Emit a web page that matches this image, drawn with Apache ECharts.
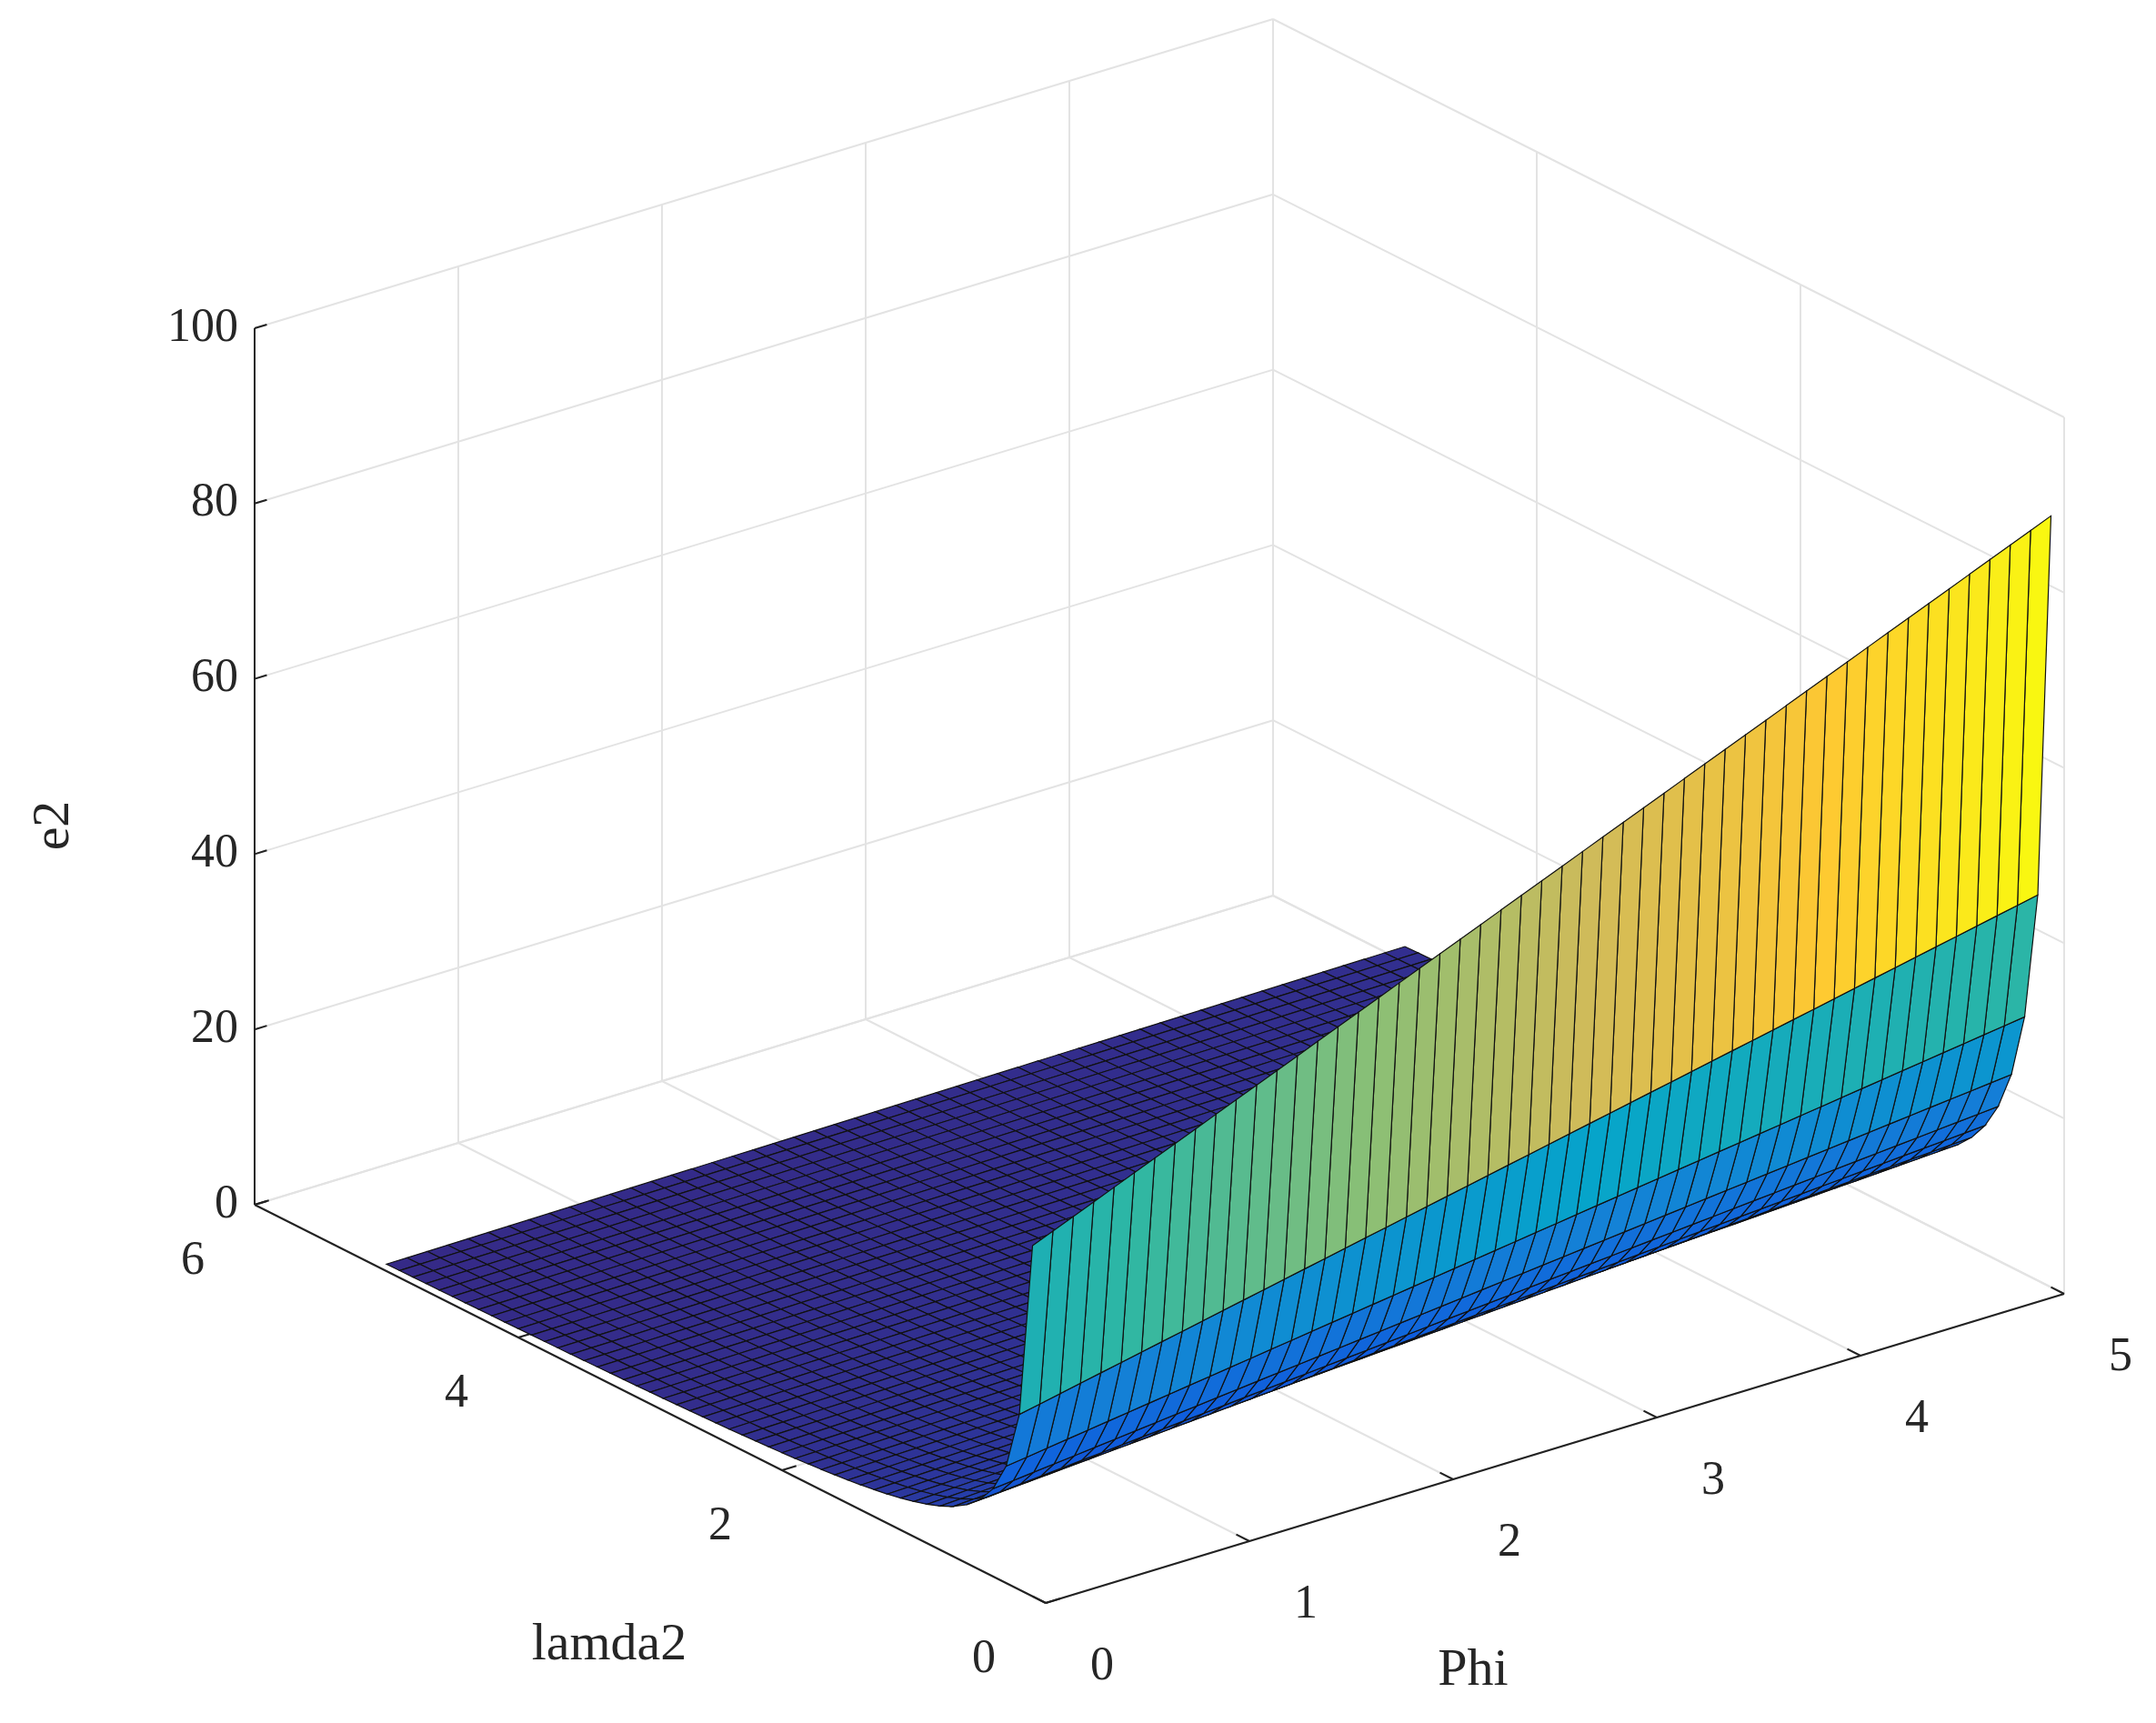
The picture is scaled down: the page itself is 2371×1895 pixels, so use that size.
<!DOCTYPE html>
<html>
<head>
<meta charset="utf-8">
<script src="https://cdn.jsdelivr.net/npm/echarts@6/dist/echarts.min.js"></script>
<style>html,body{margin:0;padding:0;background:#fff}#main{width:2371px;height:1895px}</style>
</head>
<body>
<div id="main"></div>
<script>
// axis ticks
var phiTicks = [0, 1, 2, 3, 4, 5];
var lamTicks = [0, 2, 4, 6];
var zTicks = [0, 20, 40, 60, 80, 100];
// surface samples: e2 = (wallBase + wallSlope*phi) * lamRef / lamda2
var phiVals = [];
for (var p = 0; p <= 50; p++) phiVals.push(p / 10);
var lamVals = [];
for (var l = 1; l <= 50; l++) lamVals.push(l / 10);
var wallBase = 40;   // e2 at phi=0, lamda2=0.1
var wallSlope = 9.6; // growth of wall per unit phi
var lamRef = 0.1;

var parula = ['#352a87', '#0f5cdd', '#1481d6', '#06a4ca', '#2eb7a4', '#87bf77', '#d1bb59', '#fec832', '#f9fb0e'];

function e2(i, j) {
    return (wallBase + wallSlope * phiVals[i]) * lamRef / lamVals[j];
}
var zMin = e2(0, lamVals.length - 1), zMax = e2(phiVals.length - 1, 0);

function hex(c) { return [parseInt(c.substr(1, 2), 16), parseInt(c.substr(3, 2), 16), parseInt(c.substr(5, 2), 16)]; }
function colorOf(z) {
    var t = Math.max(0, Math.min(1, (z - zMin) / (zMax - zMin))) * (parula.length - 1);
    var k = Math.min(parula.length - 2, Math.floor(t)), f = t - k;
    var a = hex(parula[k]), b = hex(parula[k + 1]);
    return 'rgb(' + [0, 1, 2].map(function (n) { return Math.round(a[n] + (b[n] - a[n]) * f); }).join(',') + ')';
}

// fixed orthographic view (MATLAB default-like)
function P(phi, lam, z) {
    return [1150 + 224 * phi - 145 * lam, 1763 - 68 * phi - 73 * lam - 9.64 * z];
}

// grid / axis segments
var segs = [];
phiTicks.forEach(function (v) {
    segs.push([[v, 0, 0], [v, 6, 0], '#e3e3e3']);
    segs.push([[v, 6, 0], [v, 6, 100], '#e3e3e3']);
});
lamTicks.forEach(function (v) {
    segs.push([[0, v, 0], [5, v, 0], '#e3e3e3']);
    segs.push([[5, v, 0], [5, v, 100], '#e3e3e3']);
});
zTicks.forEach(function (v) {
    segs.push([[0, 6, v], [5, 6, v], '#e3e3e3']);
    segs.push([[5, 6, v], [5, 0, v], '#e3e3e3']);
});
segs.push([[0, 6, 0], [0, 6, 100], '#222']);
segs.push([[0, 6, 0], [0, 0, 0], '#222']);
segs.push([[0, 0, 0], [5, 0, 0], '#222']);
zTicks.forEach(function (v) { segs.push([[0, 6, v], [0.06, 6, v], '#222']); });
lamTicks.forEach(function (v) { segs.push([[0, v, 0], [0.07, v, 0], '#222']); });
phiTicks.forEach(function (v) { segs.push([[v, 0, 0], [v, 0.1, 0], '#222']); });

// labels
var labels = [];
zTicks.forEach(function (v) { labels.push([P(0, 6, v), String(v), -18, 0, 'right']); });
lamTicks.forEach(function (v) { labels.push([P(0, v, 0), String(v), -68, 62, 'center']); });
phiTicks.forEach(function (v) { labels.push([P(v, 0, 0), String(v), 62, 70, 'center']); });

// surface faces, far to near
var faces = [];
for (var i = 0; i < phiVals.length - 1; i++) {
    for (var j = 0; j < lamVals.length - 1; j++) {
        faces.push([i, j, P(phiVals[i] + 0.05, lamVals[j] + 0.05, 0)[1]]);
    }
}
faces.sort(function (a, b) { return a[2] - b[2]; });

var chart = echarts.init(document.getElementById('main'));
var font = '"Liberation Serif", "DejaVu Serif", serif';
chart.setOption({
    animation: false,
    grid: { left: 0, right: 0, top: 0, bottom: 0 },
    xAxis: { type: 'value', min: 0, max: 2371, show: false },
    yAxis: { type: 'value', min: 0, max: 1895, inverse: true, show: false },
    series: [
        {
            type: 'custom',
            data: segs.map(function (s, k) { return [k]; }),
            renderItem: function (params, api) {
                var s = segs[params.dataIndex];
                var a = api.coord(P(s[0][0], s[0][1], s[0][2]));
                var b = api.coord(P(s[1][0], s[1][1], s[1][2]));
                return { type: 'line', shape: { x1: a[0], y1: a[1], x2: b[0], y2: b[1] },
                    style: { stroke: s[2], lineWidth: 2 } };
            }
        },
        {
            type: 'custom',
            data: faces.map(function (f) { return [f[0], f[1]]; }),
            renderItem: function (params, api) {
                var i = api.value(0), j = api.value(1);
                var pts = [[i, j], [i + 1, j], [i + 1, j + 1], [i, j + 1]].map(function (c) {
                    return api.coord(P(phiVals[c[0]], lamVals[c[1]], e2(c[0], c[1])));
                });
                return { type: 'polygon', shape: { points: pts },
                    style: { fill: colorOf(e2(i, j)), stroke: '#111', lineWidth: 1.2 } };
            }
        },
        {
            type: 'custom',
            data: labels.map(function (s, k) { return [k]; }),
            renderItem: function (params, api) {
                var s = labels[params.dataIndex];
                var c = api.coord(s[0]);
                return { type: 'text', x: c[0] + s[2], y: c[1] + s[3],
                    style: { text: s[1], fill: '#262626', font: '52px ' + font,
                        textAlign: s[4], textVerticalAlign: 'middle' } };
            }
        }
    ],
    graphic: [
        { type: 'text', x: 670, y: 1810, style: { text: 'lamda2', fill: '#262626', font: '58px ' + font, textAlign: 'center', textVerticalAlign: 'middle' } },
        { type: 'text', x: 1620, y: 1838, style: { text: 'Phi', fill: '#262626', font: '58px ' + font, textAlign: 'center', textVerticalAlign: 'middle' } },
        { type: 'text', x: 60, y: 908, rotation: Math.PI / 2, style: { text: 'e2', fill: '#262626', font: '58px ' + font, textAlign: 'center', textVerticalAlign: 'middle' } }
    ]
});
</script>
</body>
</html>
